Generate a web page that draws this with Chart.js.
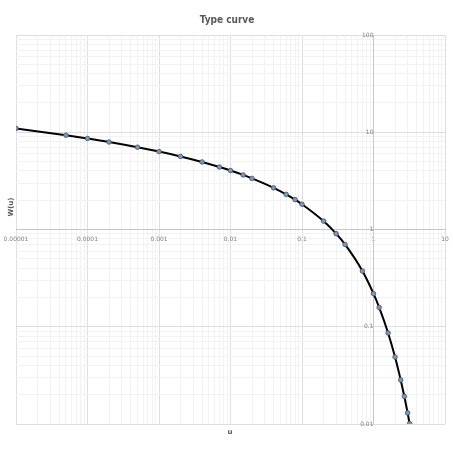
<!DOCTYPE html>
<html>
<head>
<meta charset="utf-8">
<script src="https://cdn.jsdelivr.net/npm/chart.js@4.4.1/dist/chart.umd.min.js"></script>
<style>
  html, body { margin: 0; padding: 0; background: #ffffff; }
  #wrap { width: 453px; height: 453px; position: relative; }
</style>
</head>
<body>
<div id="wrap"><canvas id="c" width="453" height="453"></canvas></div>
<script>
// Data (u, W(u)) – Theis type curve
const uValues = [0.00001, 0.00005, 0.0001, 0.0002, 0.0005, 0.001, 0.002, 0.004, 0.007,
                 0.01, 0.015, 0.02, 0.04, 0.06, 0.08, 0.1, 0.2, 0.3, 0.4, 0.7,
                 1.0, 1.2, 1.6, 2.0, 2.4, 2.7, 3.0, 3.2];
const wValues = [10.94, 9.33, 8.63, 7.94, 7.02, 6.33, 5.64, 4.95, 4.39,
                 4.04, 3.64, 3.35, 2.68, 2.30, 2.03, 1.82, 1.22, 0.906, 0.702, 0.374,
                 0.219, 0.158, 0.0863, 0.0489, 0.0284, 0.0192, 0.0130, 0.0101];
const xTickLabels = ['0.00001', '0.0001', '0.001', '0.01', '0.1', '1', '10'];
const yTickLabels = ['0.01', '0.1', '1', '10', '100'];
const chartTitle = 'Type curve';
const xAxisTitle = 'u';
const yAxisTitle = 'W(u)';

const points = uValues.map((u, i) => ({ x: u, y: wValues[i] }));

function decadeTicks(labels) {
  const vals = labels.map(Number);
  const ticks = [];
  for (let d = 0; d < vals.length; d++) {
    const base = vals[d];
    ticks.push({ value: base, major: true, label: labels[d] });
    if (d < vals.length - 1) {
      for (let m = 2; m <= 9; m++) {
        ticks.push({ value: parseFloat((base * m).toPrecision(6)), major: false, label: '' });
      }
    }
  }
  return ticks;
}

const titlesPlugin = {
  id: 'titles',
  afterDraw(chart) {
    const ctx = chart.ctx;
    ctx.save();
    ctx.fillStyle = '#595959';
    ctx.textAlign = 'center';
    ctx.textBaseline = 'middle';
    ctx.font = 'bold 10px "Liberation Sans Narrow", "DejaVu Sans Condensed", sans-serif';
    ctx.fillText(chartTitle, 227, 20);
    ctx.font = 'bold 7px "DejaVu Sans", sans-serif';
    ctx.fillText(xAxisTitle, 230, 432);
    ctx.translate(11, 207);
    ctx.rotate(-Math.PI / 2);
    ctx.fillText(yAxisTitle, 0, 0);
    ctx.restore();
  }
};

const gridColor = (c) => (c.tick && c.tick.major) ? '#dedede' : '#f2f2f2';
const noPad = (s) => { s.paddingLeft = 0; s.paddingRight = 0; s.paddingTop = 0; s.paddingBottom = 0; };

new Chart(document.getElementById('c'), {
  type: 'line',
  data: {
    datasets: [{
      data: points,
      borderColor: '#000000',
      borderWidth: 2,
      cubicInterpolationMode: 'monotone',
      pointRadius: 2.3,
      pointBackgroundColor: '#7f97b2',
      pointBorderColor: '#44546a',
      pointBorderWidth: 0.8,
      fill: false
    }]
  },
  options: {
    responsive: false,
    animation: false,
    events: [],
    layout: { padding: { top: 35, left: 16, right: 8, bottom: 29 } },
    plugins: {
      legend: { display: false },
      title: { display: false },
      tooltip: { enabled: false }
    },
    scales: {
      x: {
        type: 'logarithmic',
        position: { y: 1 },
        min: 0.00001,
        max: 10,
        afterBuildTicks: (s) => { s.ticks = decadeTicks(xTickLabels); },
        afterFit: noPad,
        ticks: {
          autoSkip: false,
          maxRotation: 0,
          minRotation: 0,
          padding: 6,
          color: '#808080',
          font: { size: 6, family: '"DejaVu Sans", sans-serif' },
          callback: function (v, i, ticks) { return ticks[i].label; }
        },
        grid: { color: gridColor, lineWidth: 1, drawTicks: false },
        border: { display: true, color: '#c8c8c8', width: 1 }
      },
      y: {
        type: 'logarithmic',
        position: { x: 1 },
        min: 0.01,
        max: 100,
        afterBuildTicks: (s) => { s.ticks = decadeTicks(yTickLabels); },
        afterFit: noPad,
        ticks: {
          autoSkip: false,
          padding: 4,
          color: '#808080',
          font: { size: 6, family: '"DejaVu Sans", sans-serif' },
          callback: function (v, i, ticks) { return ticks[i].label; }
        },
        grid: { color: gridColor, lineWidth: 1, drawTicks: false },
        border: { display: true, color: '#c8c8c8', width: 1 }
      }
    }
  },
  plugins: [titlesPlugin]
});
</script>
</body>
</html>
